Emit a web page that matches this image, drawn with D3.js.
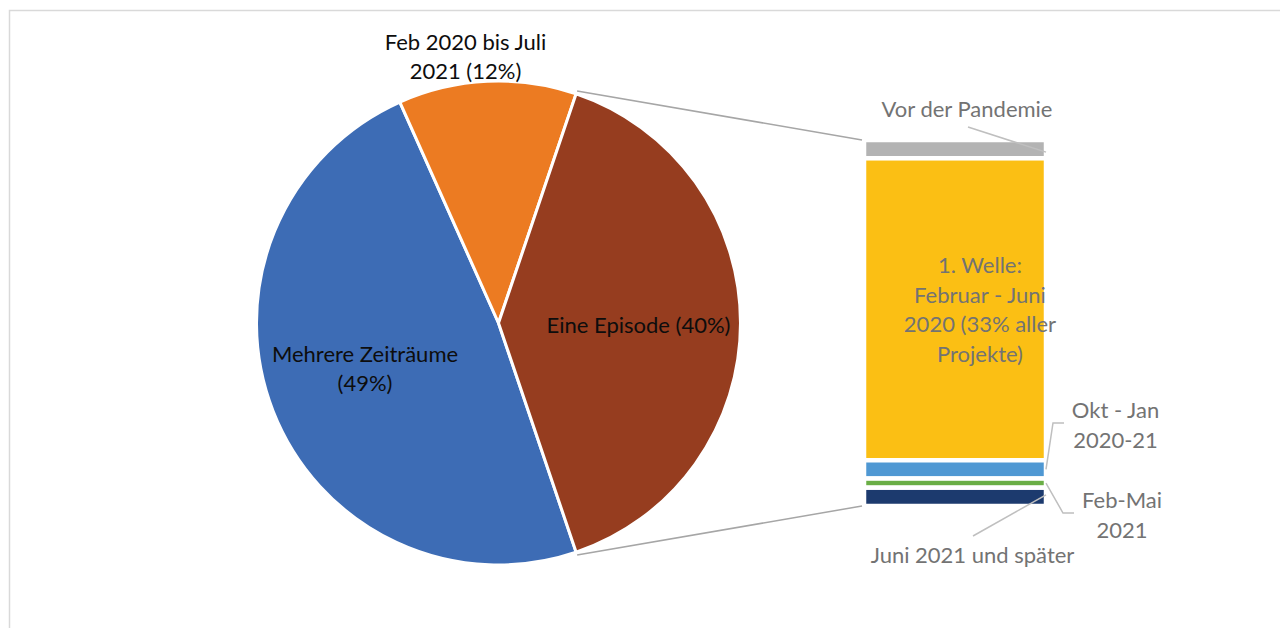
<!DOCTYPE html>
<html>
<head>
<meta charset="utf-8">
<script src="https://cdn.jsdelivr.net/npm/d3@7"></script>
<style>
  html, body { margin: 0; padding: 0; background: #fff; }
  #chart { width: 1280px; height: 628px; }
  text { font-family: Lato, "Open Sans", sans-serif; font-size: 22px; }
</style>
</head>
<body>
<div id="chart"></div>
<script>
// Pie-of-bar: share of projects by period, with "Eine Episode" split out
var pieNames  = ['Mehrere Zeiträume', 'Feb 2020 bis Juli 2021', 'Eine Episode'];
var pieValues = [49, 12, 40];
var pieText   = [['Mehrere Zeiträume', '(49%)'], ['Feb 2020 bis Juli', '2021 (12%)'], ['Eine Episode (40%)']];
var pieColors = ['#3d6cb5', '#ec7b22', '#963d1f'];

var barNames  = ['Vor der Pandemie', '1. Welle', 'Okt - Jan 2020-21', 'Feb-Mai 2021', 'Juni 2021 und später'];
var barValues = [2, 33, 2, 1, 2];
var barText   = [['Vor der Pandemie'], ['1. Welle:', 'Februar - Juni', '2020 (33% aller', 'Projekte)'],
                 ['Okt - Jan', '2020-21'], ['Feb-Mai', '2021'], ['Juni 2021 und später']];
var barColors = ['#b3b3b3', '#fbbf14', '#4f98d3', '#6aae46', '#1c3a6e'];

(function () {
    var W = 1280, H = 628;
    var svg = d3.select('#chart').append('svg')
        .attr('width', W).attr('height', H);

    // chart area frame (only top/left edges fall inside the picture)
    svg.append('rect')
        .attr('x', 9.5).attr('y', 10.5).attr('width', W + 20).attr('height', H + 20)
        .attr('fill', 'none').attr('stroke', '#d9d9d9').attr('stroke-width', 1.5);

    // ── Pie ─────────────────────────────────────────────
    var cx = 498.5, cy = 323, r = 242;
    var total = d3.sum(pieValues);
    var other = pieValues[pieValues.length - 1];
    // the split-out slice is centred on 3 o'clock
    var start = Math.PI / 2 + Math.PI * other / total;
    var pie = d3.pie().sort(null).startAngle(start).endAngle(start + 2 * Math.PI);
    var arcs = pie(pieValues);
    var arc = d3.arc().innerRadius(0).outerRadius(r);

    var gp = svg.append('g').attr('transform', 'translate(' + cx + ',' + cy + ')');
    gp.selectAll('path').data(arcs).enter().append('path')
        .attr('d', arc)
        .attr('fill', function (d, i) { return pieColors[i]; })
        .attr('stroke', '#fff').attr('stroke-width', 3).attr('stroke-linejoin', 'round');

    // ── Stacked bar ─────────────────────────────────────
    var bx0 = 864, bx1 = 1046;
    var y = d3.scaleLinear().domain([0, d3.sum(barValues)]).range([140, 506]);
    var stack = [], acc = 0;
    barValues.forEach(function (v, i) {
        stack.push({ i: i, y0: acc, y1: acc + v });
        acc += v;
    });
    svg.append('g').selectAll('rect').data(stack).enter().append('rect')
        .attr('x', bx0).attr('width', bx1 - bx0)
        .attr('y', function (d) { return y(d.y0); })
        .attr('height', function (d) { return y(d.y1) - y(d.y0); })
        .attr('fill', function (d) { return barColors[d.i]; })
        .attr('stroke', '#fff').attr('stroke-width', 4.5);

    // connector lines pie → bar
    var oArc = arcs[arcs.length - 1];
    function edge(a, rr) { return [cx + rr * Math.sin(a), cy - rr * Math.cos(a)]; }
    var pTop = edge(oArc.startAngle, r + 3), pBot = edge(oArc.endAngle, r + 3);
    svg.append('line')
        .attr('x1', pTop[0]).attr('y1', pTop[1]).attr('x2', bx0 - 2).attr('y2', y(0))
        .attr('stroke', '#a6a6a6').attr('stroke-width', 1.5);
    svg.append('line')
        .attr('x1', pBot[0]).attr('y1', pBot[1]).attr('x2', bx0 - 2).attr('y2', y(acc))
        .attr('stroke', '#a6a6a6').attr('stroke-width', 1.5);

    // ── Labels ──────────────────────────────────────────
    function multiline(g, lines, x, yBase, step, color) {
        lines.forEach(function (s, k) {
            g.append('text')
                .attr('x', x).attr('y', yBase + k * step)
                .attr('text-anchor', 'middle').attr('fill', color)
                .text(s);
        });
    }
    var pieLabelPos = [[365, 362], [465.5, 50], [638.5, 333]];
    pieText.forEach(function (lines, i) {
        multiline(svg, lines, pieLabelPos[i][0], pieLabelPos[i][1], 28.5, '#0d0d0d');
    });

    // leader lines for bar labels
    var lead = '#bfbfbf';
    function mid(i) { return (y(stack[i].y0) + y(stack[i].y1)) / 2; }
    var leaders = [
        [[968, 127], [bx1, mid(0) + 3]],
        [[bx1, mid(2)], [1053, 423], [1064, 423]],
        [[bx1, mid(3)], [1063, 513], [1074, 513]],
        [[bx1, mid(4) - 2], [973, 536]]
    ];
    leaders.forEach(function (pts) {
        svg.append('path')
            .attr('d', d3.line()(pts))
            .attr('fill', 'none').attr('stroke', lead).attr('stroke-width', 1.5);
    });

    var barLabelPos = [[967, 117], [980, 273], [1115.5, 418], [1122, 508], [972.5, 563]];
    barText.forEach(function (lines, i) {
        multiline(svg, lines, barLabelPos[i][0], barLabelPos[i][1], 29.5, '#737373');
    });
})();
</script>
</body>
</html>
